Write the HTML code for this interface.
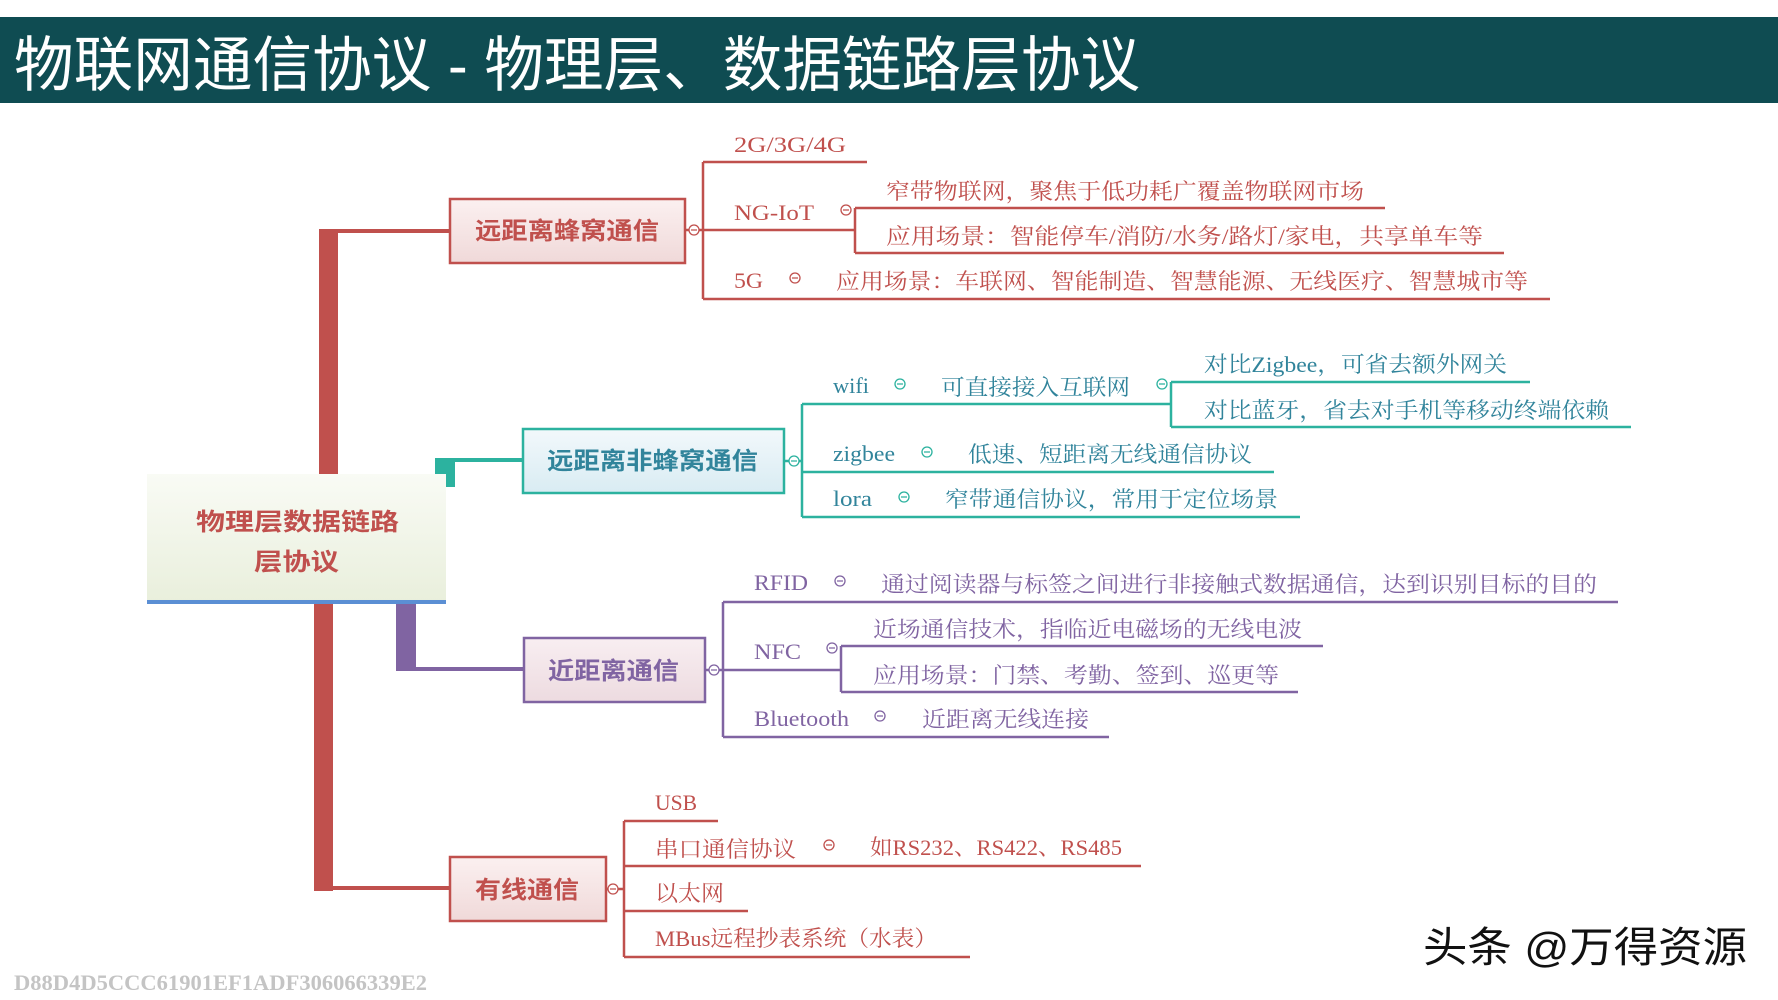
<!DOCTYPE html>
<html><head><meta charset="utf-8"><style>
html,body{margin:0;padding:0;background:#fff;}
svg{display:block;}
.t{font-family:"Liberation Serif","Noto Serif CJK SC",serif;font-size:22px;}
.r{fill:#c0504d;} .g{fill:#31849b;} .p{fill:#8064a2;}
.b{font-family:"Liberation Sans","Noto Sans CJK SC",sans-serif;font-weight:bold;font-size:24px;}
</style></head><body>
<svg width="1778" height="1000" viewBox="0 0 1778 1000" xmlns="http://www.w3.org/2000/svg">
<defs>
<linearGradient id="gr" x1="0" y1="0" x2="0" y2="1"><stop offset="0" stop-color="#fbf0f0"/><stop offset="1" stop-color="#f0d9d9"/></linearGradient>
<linearGradient id="gb" x1="0" y1="0" x2="0" y2="1"><stop offset="0" stop-color="#f2f8fb"/><stop offset="1" stop-color="#d9ecf3"/></linearGradient>
<linearGradient id="gp" x1="0" y1="0" x2="0" y2="1"><stop offset="0" stop-color="#f8eef1"/><stop offset="1" stop-color="#eddbe0"/></linearGradient>
<linearGradient id="gg" x1="0" y1="0" x2="0" y2="1"><stop offset="0" stop-color="#f9fbf5"/><stop offset="1" stop-color="#e9efdc"/></linearGradient>
</defs>
<!-- header -->
<rect x="0" y="17" width="1778" height="86" fill="#0f4c52"/>
<text x="14" y="86" fill="#fff" font-family="'Liberation Sans','Noto Sans CJK SC',sans-serif" font-size="60" textLength="1126" lengthAdjust="spacingAndGlyphs">物联网通信协议 - 物理层、数据链路层协议</text>

<!-- trunks -->
<g fill="#c0504d">
<rect x="319" y="229" width="19" height="246"/>
<rect x="319" y="229" width="130" height="4"/>
<rect x="314" y="604" width="19" height="287"/>
<rect x="314" y="886" width="135" height="4"/>
</g>
<g fill="#2cb29f"><rect x="435" y="459" width="20" height="28"/><rect x="435" y="458" width="87" height="4"/></g>
<g fill="#8064a2"><rect x="396" y="604" width="20" height="67"/><rect x="396" y="667" width="127" height="4"/></g>

<!-- root -->
<rect x="147" y="474" width="299" height="128" fill="url(#gg)"/>
<rect x="147" y="600" width="299" height="4" fill="#5b8fd4"/>
<text class="b r" x="196" y="530" font-size="28" textLength="203" lengthAdjust="spacingAndGlyphs">物理层数据链路</text>
<text class="b r" x="254" y="570" font-size="28" textLength="85" lengthAdjust="spacingAndGlyphs">层协议</text>

<!-- boxes -->
<rect x="450" y="199" width="235" height="64" fill="url(#gr)" stroke="#c0504d" stroke-width="2.5"/>
<text class="b r" x="475" y="239" textLength="184" lengthAdjust="spacingAndGlyphs">远距离蜂窝通信</text>
<rect x="523" y="429" width="261" height="64" fill="url(#gb)" stroke="#2cb29f" stroke-width="2.5"/>
<text class="b g" x="547" y="469" textLength="211" lengthAdjust="spacingAndGlyphs">远距离非蜂窝通信</text>
<rect x="524" y="638" width="181" height="64" fill="url(#gp)" stroke="#8064a2" stroke-width="2.5"/>
<text class="b p" x="548" y="679" textLength="131" lengthAdjust="spacingAndGlyphs">近距离通信</text>
<rect x="450" y="857" width="156" height="64" fill="url(#gr)" stroke="#c0504d" stroke-width="2.5"/>
<text class="b r" x="475" y="898" textLength="104" lengthAdjust="spacingAndGlyphs">有线通信</text>

<!-- red cellular -->
<g stroke="#c0504d" stroke-width="2.5" fill="none">
<path d="M685 230 H703 M703 162 V299 M703 162 H867 M703 230 H855 M855 208 V253 M855 208 H1385 M855 253 H1504 M703 299 H1550"/>
<path d="M606 889 H624 M624 821 V957 M624 821 H718 M624 866 H1141 M624 911 H748 M624 957 H970"/>
</g>
<g stroke="#c0504d" stroke-width="1.3" fill="#fff">
<circle cx="694" cy="230" r="5"/><circle cx="846" cy="210" r="5"/><circle cx="795" cy="278" r="5"/>
<circle cx="613" cy="889" r="5"/><circle cx="829" cy="845" r="5"/>
</g>
<g stroke="#c0504d" stroke-width="1.3"><path d="M691 230h6M843 210h6M792 278h6M610 889h6M826 845h6"/></g>
<g class="t r">
<text x="734" y="152" textLength="112" lengthAdjust="spacingAndGlyphs">2G/3G/4G</text>
<text x="734" y="220" textLength="80" lengthAdjust="spacingAndGlyphs">NG-IoT</text>
<text x="886" y="199" textLength="478" lengthAdjust="spacingAndGlyphs">窄带物联网，聚焦于低功耗广覆盖物联网市场</text>
<text x="886" y="244" textLength="597" lengthAdjust="spacingAndGlyphs">应用场景：智能停车/消防/水务/路灯/家电，共享单车等</text>
<text x="734" y="288" textLength="29" lengthAdjust="spacingAndGlyphs">5G</text>
<text x="836" y="289" textLength="692" lengthAdjust="spacingAndGlyphs">应用场景：车联网、智能制造、智慧能源、无线医疗、智慧城市等</text>
<text x="655" y="810" textLength="42" lengthAdjust="spacingAndGlyphs">USB</text>
<text x="655" y="857" textLength="141" lengthAdjust="spacingAndGlyphs">串口通信协议</text>
<text x="870" y="855" textLength="252" lengthAdjust="spacingAndGlyphs">如RS232、RS422、RS485</text>
<text x="655" y="901" textLength="69" lengthAdjust="spacingAndGlyphs">以太网</text>
<text x="655" y="946" textLength="282" lengthAdjust="spacingAndGlyphs">MBus远程抄表系统（水表）</text>
</g>

<!-- teal -->
<g stroke="#2cb29f" stroke-width="2.5" fill="none">
<path d="M785 461 H802 M802 404 V517 M802 404 H1171 M1171 382 V427 M1171 382 H1530 M1171 427 H1631 M802 472 H1274 M802 517 H1300"/>
</g>
<g stroke="#2cb29f" stroke-width="1.3" fill="#fff">
<circle cx="794" cy="461" r="5"/><circle cx="900" cy="384" r="5"/><circle cx="1162" cy="384" r="5"/><circle cx="927" cy="452" r="5"/><circle cx="904" cy="497" r="5"/>
</g>
<g stroke="#2cb29f" stroke-width="1.3"><path d="M791 461h6M897 384h6M1159 384h6M924 452h6M901 497h6"/></g>
<g class="t g">
<text x="833" y="393" textLength="36" lengthAdjust="spacingAndGlyphs">wifi</text>
<text x="941" y="395" textLength="189" lengthAdjust="spacingAndGlyphs">可直接接入互联网</text>
<text x="1204" y="372" textLength="303" lengthAdjust="spacingAndGlyphs">对比Zigbee，可省去额外网关</text>
<text x="1204" y="418" textLength="405" lengthAdjust="spacingAndGlyphs">对比蓝牙，省去对手机等移动终端依赖</text>
<text x="833" y="461" textLength="62" lengthAdjust="spacingAndGlyphs">zigbee</text>
<text x="968" y="462" textLength="284" lengthAdjust="spacingAndGlyphs">低速、短距离无线通信协议</text>
<text x="833" y="506" textLength="39" lengthAdjust="spacingAndGlyphs">lora</text>
<text x="945" y="507" textLength="333" lengthAdjust="spacingAndGlyphs">窄带通信协议，常用于定位场景</text>
</g>

<!-- purple -->
<g stroke="#8064a2" stroke-width="2.5" fill="none">
<path d="M705 670 H723 M723 602 V737 M723 602 H1618 M723 670 H841 M841 646 V692 M841 646 H1323 M841 692 H1298 M723 737 H1109"/>
</g>
<g stroke="#8064a2" stroke-width="1.3" fill="#fff">
<circle cx="714" cy="670" r="5"/><circle cx="840" cy="581" r="5"/><circle cx="832" cy="648" r="5"/><circle cx="880" cy="716" r="5"/>
</g>
<g stroke="#8064a2" stroke-width="1.3"><path d="M711 670h6M837 581h6M829 648h6M877 716h6"/></g>
<g class="t p">
<text x="754" y="590" textLength="54" lengthAdjust="spacingAndGlyphs">RFID</text>
<text x="881" y="592" textLength="716" lengthAdjust="spacingAndGlyphs">通过阅读器与标签之间进行非接触式数据通信，达到识别目标的目的</text>
<text x="754" y="659" textLength="47" lengthAdjust="spacingAndGlyphs">NFC</text>
<text x="873" y="637" textLength="429" lengthAdjust="spacingAndGlyphs">近场通信技术，指临近电磁场的无线电波</text>
<text x="873" y="683" textLength="406" lengthAdjust="spacingAndGlyphs">应用场景：门禁、考勤、签到、巡更等</text>
<text x="754" y="726" textLength="95" lengthAdjust="spacingAndGlyphs">Bluetooth</text>
<text x="922" y="727" textLength="167" lengthAdjust="spacingAndGlyphs">近距离无线连接</text>
</g>

<!-- watermark -->
<text x="14" y="990" fill="#c4c4c4" font-family="'Liberation Serif',serif" font-weight="bold" font-size="22" textLength="413" lengthAdjust="spacingAndGlyphs">D88D4D5CCC61901EF1ADF306066339E2</text>
<text x="1423" y="962" fill="#111" font-family="'Liberation Sans','Noto Sans CJK SC',sans-serif" font-size="42" textLength="324" lengthAdjust="spacingAndGlyphs">头条 @万得资源</text>
</svg>
</body></html>
